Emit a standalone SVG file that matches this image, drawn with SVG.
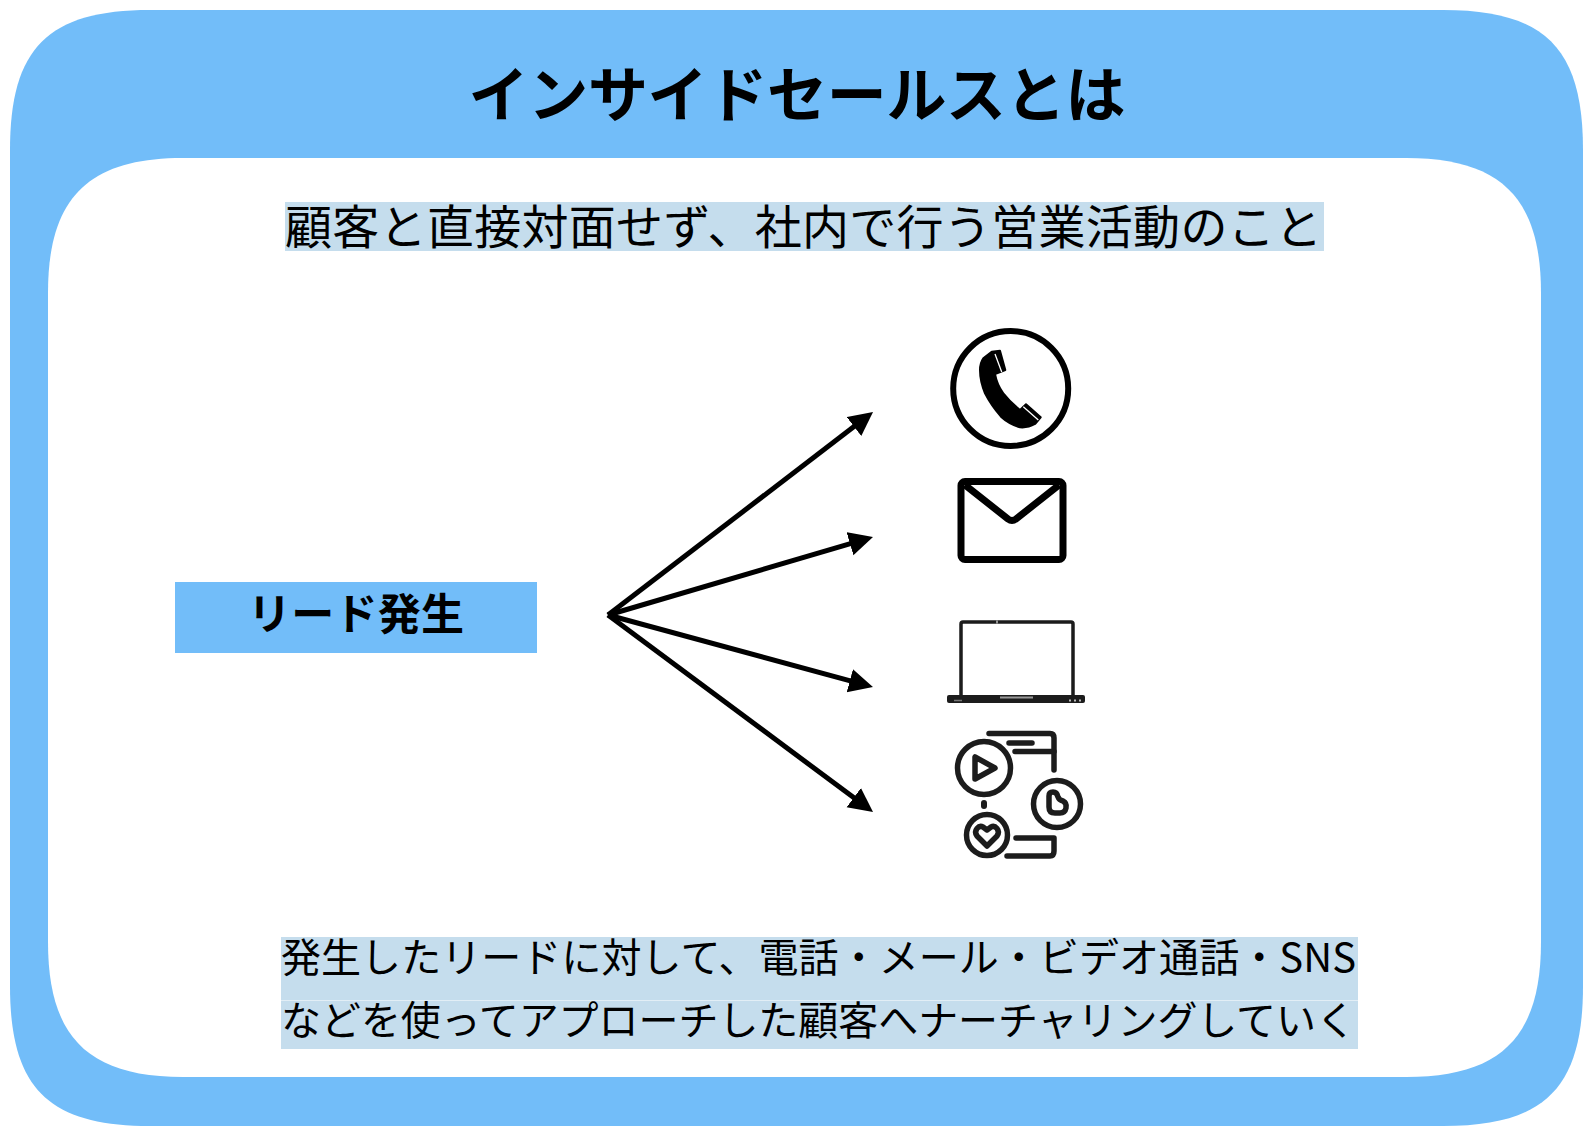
<svg xmlns="http://www.w3.org/2000/svg" width="1592" height="1132" viewBox="0 0 1592 1132">
<style>
text{font-family:"Noto Sans CJK JP","Liberation Sans",sans-serif;fill:#000}
.b{font-weight:700}
.hl{fill:#c5dded}
.ar{stroke:#000;stroke-width:5;fill:none;marker-end:url(#ah)}
.ic{fill:none;stroke:#1c1c1c;stroke-linecap:round;stroke-linejoin:round}
</style>
<defs><marker id="ah" markerUnits="userSpaceOnUse" markerWidth="26" markerHeight="26" refX="12" refY="12.500" orient="auto"><path d="M0 0.500L24 12.500L0 24.500Z" fill="#000"/></marker></defs>
<g id="frame">
<path d="M150 10H1443C1545 10 1583 48 1583 150V986C1583 1088 1545 1126 1443 1126H150C48 1126 10 1088 10 986V150C10 48 48 10 150 10Z" fill="#72bdf9"/>
<path d="M183 158H1406C1501 158 1541 198 1541 293V942C1541 1037 1501 1077 1406 1077H183C88 1077 48 1037 48 942V293C48 198 88 158 183 158Z" fill="#fff"/>
</g>
<g id="title"><text class="b" x="797" y="117" font-size="60" text-anchor="middle" textLength="657">インサイドセールスとは</text></g>
<g id="subtitle"><rect class="hl" x="285" y="202" width="1039" height="49"/><text x="285" y="244" font-size="47" textLength="1037">顧客と直接対面せず、社内で行う営業活動のこと</text></g>
<g id="lead"><rect x="175" y="582" width="362" height="71" fill="#72bdf9"/><text class="b" x="356" y="630" font-size="43" text-anchor="middle" textLength="216">リード発生</text></g>
<g id="connectors">
<line class="ar" x1="608" y1="615" x2="863.500" y2="419.300"/>
<line class="ar" x1="608" y1="615" x2="861.500" y2="540.400"/>
<line class="ar" x1="608" y1="615" x2="861.400" y2="683.900"/>
<line class="ar" x1="608" y1="615" x2="863.400" y2="804.800"/>
</g>
<g id="phone">
<circle cx="1010.7" cy="388.5" r="57.500" fill="none" stroke="#000" stroke-width="6"/>
<path d="M991.700 351.700L1000 350.700L1005.300 370L995 374Q997 385 1003.300 393.300Q1011 403 1020 410L1026 404.300L1040.700 417.300L1035 424Q1028 428 1020 427.300Q1009 424 1001 416.700Q991 405 985 393.300Q980 381 980 370Q980 363 983.300 358.300Z" fill="#000" stroke="#000" stroke-linejoin="round" stroke-width="2"/>
<path d="M995 354L1001.700 372M1023.300 406.700L1038.300 420" stroke="#fff" stroke-width="1.300" fill="none"/>
</g>
<g id="mail">
<rect x="961" y="481.500" width="102" height="78" rx="4" fill="none" stroke="#000" stroke-width="7"/>
<path d="M965 485L1008 519Q1012 522 1016 519L1059 485" fill="none" stroke="#000" stroke-width="7" stroke-linejoin="round"/>
</g>
<g id="laptop">
<path d="M961 697V624Q961 622 963 622H1071Q1073 622 1073 624V697" fill="none" stroke="#1c1c1c" stroke-width="3.500"/>
<path d="M997 620.500V623.500" stroke="#bbb" stroke-width="1.500"/>
<path d="M949 695H1083Q1085 695 1085 697V701Q1085 703 1083 703H949Q947 703 947 701V697Q947 695 949 695Z" fill="#1c1c1c"/>
<path d="M1000 697.500H1033" stroke="#999" stroke-width="2"/>
<path d="M1069 700.500h2M1074 700.500h2M1079 700.500h2" stroke="#bbb" stroke-width="2"/>
<path d="M954 700.500h8" stroke="#777" stroke-width="1.500"/>
</g>
<g id="social">
<g class="ic" stroke-width="5.500">
<circle cx="984" cy="768" r="26.500"/>
<path d="M975 757V779L995 768Z"/>
<circle cx="987" cy="835" r="20.500"/>
<path d="M987 846L977 836C973 830 979 825 983 827L987 830L991 827C995 825 1001 830 997 836Z"/>
<circle cx="1057" cy="804" r="23.500"/>
<path d="M1049 796Q1049 792 1053 792Q1057 792 1058 797Q1059 800 1063 801Q1067 803 1066 808Q1065 813 1060 813H1055Q1049 813 1049 807Z"/>
<path d="M989 733.500H1050Q1054 733.500 1054 738V770"/>
<path d="M1009 743H1032M1015 751.500H1054"/>
<path d="M1016 838H1054V851Q1054 856 1050 856H1007"/>
<path d="M984 803V806" stroke-width="6"/>
</g>
</g>
<g id="note">
<rect class="hl" x="281" y="937" width="1077" height="63"/>
<rect class="hl" x="281" y="1000.500" width="1077" height="48.500"/>
<text x="281" y="972" font-size="40" textLength="1075">発生したリードに対して、電話・メール・ビデオ通話・SNS</text>
<text x="281" y="1035" font-size="40" textLength="1075">などを使ってアプローチした顧客へナーチャリングしていく</text>
</g>
</svg>
